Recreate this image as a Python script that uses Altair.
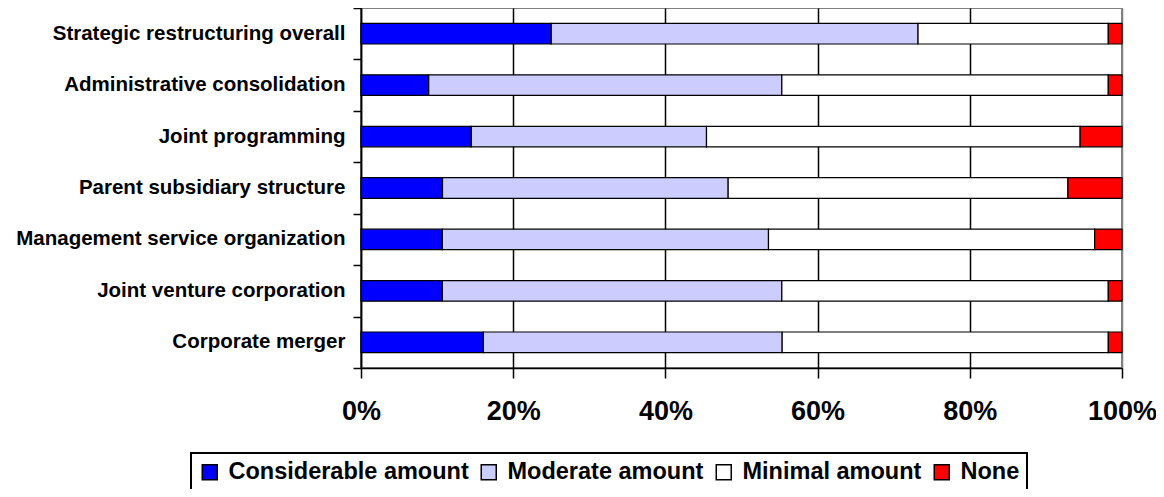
import altair as alt
import pandas as pd

categories = [
    "Strategic restructuring overall",
    "Administrative consolidation",
    "Joint programming",
    "Parent subsidiary structure",
    "Management service organization",
    "Joint venture corporation",
    "Corporate merger",
]
series = ["Considerable amount", "Moderate amount", "Minimal amount", "None"]
considerable = [25.0, 8.9, 14.5, 10.7, 10.7, 10.7, 16.1]
moderate = [48.2, 46.4, 30.9, 37.5, 42.9, 44.6, 39.3]
minimal = [25.0, 42.9, 49.1, 44.6, 42.9, 42.9, 42.9]
none_ = [1.8, 1.8, 5.5, 7.1, 3.6, 1.8, 1.8]
colors = ["#0000FF", "#CCCCFF", "#FFFFFF", "#FF0000"]
x_ticks = [0, 0.2, 0.4, 0.6, 0.8, 1.0]

rows = []
for i, c in enumerate(categories):
    for j, (s, vals) in enumerate(zip(series, [considerable, moderate, minimal, none_])):
        rows.append({"category": c, "series": s, "value": vals[i], "order": j})
df = pd.DataFrame(rows)

FONT = "Liberation Sans"

bars = alt.Chart(df).mark_bar(stroke="black", strokeWidth=1.2).encode(
    x=alt.X(
        "value:Q",
        stack="normalize",
        scale=alt.Scale(domain=[0, 1], nice=False),
        axis=alt.Axis(
            values=x_ticks,
            format=".0%",
            title=None,
            grid=True,
            gridColor={"condition": {"test": "datum.value == 1", "value": "#808080"}, "value": "black"},
            gridWidth=1.5,
            domainColor="black",
            domainWidth=1.5,
            tickColor="black",
            tickWidth=1.5,
            tickSize=10,
            labelFont=FONT,
            labelFontSize=27,
            labelFontWeight="bold",
            labelColor="black",
            labelPadding=20,
            labelFlush=False,
        ),
    ),
    y=alt.Y(
        "category:N",
        sort=categories,
        scale=alt.Scale(paddingInner=0.6, paddingOuter=0.3),
        axis=alt.Axis(
            title=None,
            orient="left",
            ticks=False,
            tickSize=0,
            domain=False,
            labelFont=FONT,
            labelFontSize=20.5,
            labelFontWeight="bold",
            labelColor="black",
            labelPadding=16,
            labelLimit=400,
        ),
    ),
    color=alt.Color(
        "series:N",
        sort=series,
        scale=alt.Scale(domain=series, range=colors),
        legend=alt.Legend(
            title=None,
            orient="none",
            legendX=-170,
            legendY=445,
            direction="horizontal",
            columns=4,
            symbolType="square",
            symbolSize=225,
            symbolStrokeColor="black",
            symbolStrokeWidth=1.5,
            labelFont=FONT,
            labelFontSize=23.5,
            labelFontWeight="bold",
            labelColor="black",
            labelOffset=7,
            labelLimit=400,
            columnPadding=8,
            padding=7,
            strokeColor="black",
            fillColor="white",
        ),
    ),
    order=alt.Order("order:Q"),
)

ticks_layer = alt.Chart(df).mark_point(opacity=0).encode(
    y=alt.Y(
        "category:N",
        sort=categories,
        scale=alt.Scale(paddingInner=0, paddingOuter=0),
        axis=alt.Axis(
            title=None,
            orient="left",
            labels=False,
            tickBand="extent",
            tickSize=8,
            tickColor="black",
            tickWidth=1.5,
            domainColor="black",
            domainWidth=1.5,
        ),
    ),
)

chart = (
    alt.layer(bars, ticks_layer)
    .resolve_scale(y="independent")
    .resolve_axis(y="independent")
    .properties(
        width=761,
        height=360,
        autosize=alt.AutoSizeParams(type="none"),
        padding={"left": 353, "top": 0, "right": 34, "bottom": 121},
        background="white",
    )
    .configure_view(stroke="#808080", strokeWidth=2)
    .configure_legend(strokeWidth=2)
)

chart.save("out.html", embed_options={"renderer": "svg", "actions": False})
